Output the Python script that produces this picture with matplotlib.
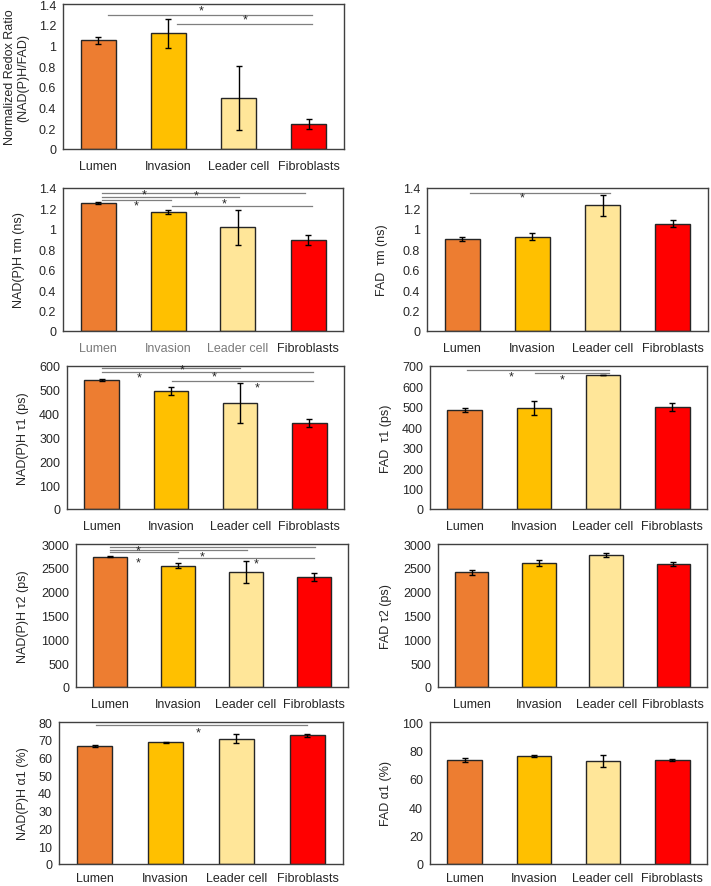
import matplotlib.pyplot as plt
from matplotlib.ticker import FuncFormatter, MultipleLocator

plt.rcParams['font.family'] = ['Liberation Sans', 'DejaVu Sans']

groups = ['Lumen', 'Invasion', 'Leader cell', 'Fibroblasts']
bar_colors = ['#ED7D31', '#FFC000', '#FFE699', '#FF0000']

# means and error bars
redox = [1.05, 1.12, 0.49, 0.24]
redox_err = [0.035, 0.14, 0.31, 0.045]
nadh_tm = [1.256, 1.167, 1.016, 0.889]
nadh_tm_err = [0.01, 0.018, 0.17, 0.05]
fad_tm = [0.902, 0.925, 1.23, 1.052]
fad_tm_err = [0.02, 0.035, 0.10, 0.036]
nadh_t1 = [540, 494, 445, 360]
nadh_t1_err = [5, 16, 83, 17]
fad_t1 = [486, 494, 656, 499]
fad_t1_err = [10, 35, 2, 18]
nadh_t2 = [2733, 2544, 2404, 2306]
nadh_t2_err = [12, 55, 230, 90]
fad_t2 = [2404, 2600, 2768, 2579]
fad_t2_err = [50, 65, 45, 42]
nadh_a1 = [66.5, 68.5, 70.6, 72.5]
nadh_a1_err = [0.4, 0.5, 2.4, 0.7]
fad_a1 = [73.3, 76.1, 72.4, 73.3]
fad_a1_err = [1.4, 0.8, 4.2, 0.8]

# significance lines (from, to, height) and star positions (x, y)
redox_lines = [(0.14, 3.05, 1.29), (1.12, 3.05, 1.21)]
redox_stars = [(1.47, 1.335), (2.09, 1.25)]
nadh_tm_lines = [(0.06, 2.96, 1.351), (0.06, 2.02, 1.311), (0.06, 1.04, 1.28), (1.05, 3.06, 1.225)]
nadh_tm_stars = [(0.66, 1.335), (1.40, 1.328), (0.54, 1.23), (1.80, 1.25)]
fad_tm_lines = [(0.11, 2.11, 1.351)]
fad_tm_stars = [(0.86, 1.31)]
nadh_t1_lines = [(0.0, 2.0, 590), (0.0, 3.05, 575), (1.02, 3.05, 538)]
nadh_t1_stars = [(0.54, 550), (1.16, 586), (1.62, 558), (2.25, 511)]
fad_t1_lines = [(0.04, 2.08, 682), (1.02, 2.08, 666)]
fad_t1_stars = [(0.67, 650), (1.41, 633)]
nadh_t2_lines = [(0.0, 3.02, 2929), (0.0, 2.02, 2880), (0.0, 1.0, 2824), (1.0, 3.0, 2698)]
nadh_t2_stars = [(0.42, 2873), (0.42, 2614), (1.36, 2733), (2.15, 2593)]
nadh_a1_lines = [(0.02, 3.0, 78.5)]
nadh_a1_stars = [(1.46, 74.3)]

panels = [
    ('Normalized Redox Ratio\n(NAD(P)H/FAD)', redox, redox_err, 1.4, 0.2, redox_lines, redox_stars),
    ('NAD(P)H τm (ns)', nadh_tm, nadh_tm_err, 1.4, 0.2, nadh_tm_lines, nadh_tm_stars),
    ('FAD  τm (ns)', fad_tm, fad_tm_err, 1.4, 0.2, fad_tm_lines, fad_tm_stars),
    ('NAD(P)H τ1 (ps)', nadh_t1, nadh_t1_err, 600, 100, nadh_t1_lines, nadh_t1_stars),
    ('FAD  τ1 (ps)', fad_t1, fad_t1_err, 700, 100, fad_t1_lines, fad_t1_stars),
    ('NAD(P)H τ2 (ps)', nadh_t2, nadh_t2_err, 3000, 500, nadh_t2_lines, nadh_t2_stars),
    ('FAD τ2 (ps)', fad_t2, fad_t2_err, 3000, 500, [], []),
    ('NAD(P)H α1 (%)', nadh_a1, nadh_a1_err, 80, 10, nadh_a1_lines, nadh_a1_stars),
    ('FAD α1 (%)', fad_a1, fad_a1_err, 100, 20, [], []),
]

# axes boxes in pixels: left, top, right, bottom, right edge of ylabel, x tick pad
boxes = [
    (63, 5, 344, 150, 29, 8),
    (63, 189, 343, 332, 25, 8),
    (427, 189, 708, 332, 388, 8),
    (67, 367, 344, 510, 29, 8),
    (430, 367, 707, 510, 392, 8),
    (76, 545, 348, 688, 29, 8),
    (438, 545, 707, 688, 392, 8),
    (59, 723, 343, 865, 29, 5.5),
    (430, 723, 707, 865, 392, 5.5),
]

W, H = 711, 887
fig = plt.figure(figsize=(W / 100, H / 100), dpi=100)
txt = '#262626'

for k, (lab, vals, errs, ymax, step, lines, stars) in enumerate(panels):
    l, t, r, b, lx, xpad = boxes[k]
    ax = fig.add_axes([l / W, 1 - b / H, (r - l) / W, (b - t) / H])
    x = range(len(groups))
    ax.bar(x, vals, width=0.5, color=bar_colors, edgecolor='#262626', linewidth=1,
           yerr=errs, capsize=2.5, error_kw=dict(elinewidth=1, capthick=1, ecolor='black'),
           zorder=2)
    for x0, x1, y in lines:
        ax.plot([x0, x1], [y, y], color='#7f7f7f', lw=0.9, zorder=3)
    for sx, sy in stars:
        ax.text(sx, sy, '*', ha='center', va='center', fontsize=9, color=txt)
    ax.set_xlim(-0.5, 3.5)
    ax.set_ylim(0, ymax)
    ax.yaxis.set_major_locator(MultipleLocator(step))
    ax.yaxis.set_major_formatter(FuncFormatter(lambda v, _: f'{v:g}'))
    ax.set_xticks(list(x))
    ax.set_xticklabels(groups)
    ax.tick_params(axis='both', length=0, labelsize=9, labelcolor=txt)
    ax.tick_params(axis='x', pad=xpad)
    ax.tick_params(axis='y', pad=5)
    if k == 1:
        for tl in ax.get_xticklabels()[:3]:
            tl.set_color('#7a7a7a')
    for sp in ax.spines.values():
        sp.set_color('#404040')
        sp.set_linewidth(1)
    ax.set_ylabel(lab, fontsize=9, color=txt, linespacing=1.1)
    ax.yaxis.set_label_coords((lx - l) / (r - l), 0.5)

fig.savefig('out.png', dpi=100)
